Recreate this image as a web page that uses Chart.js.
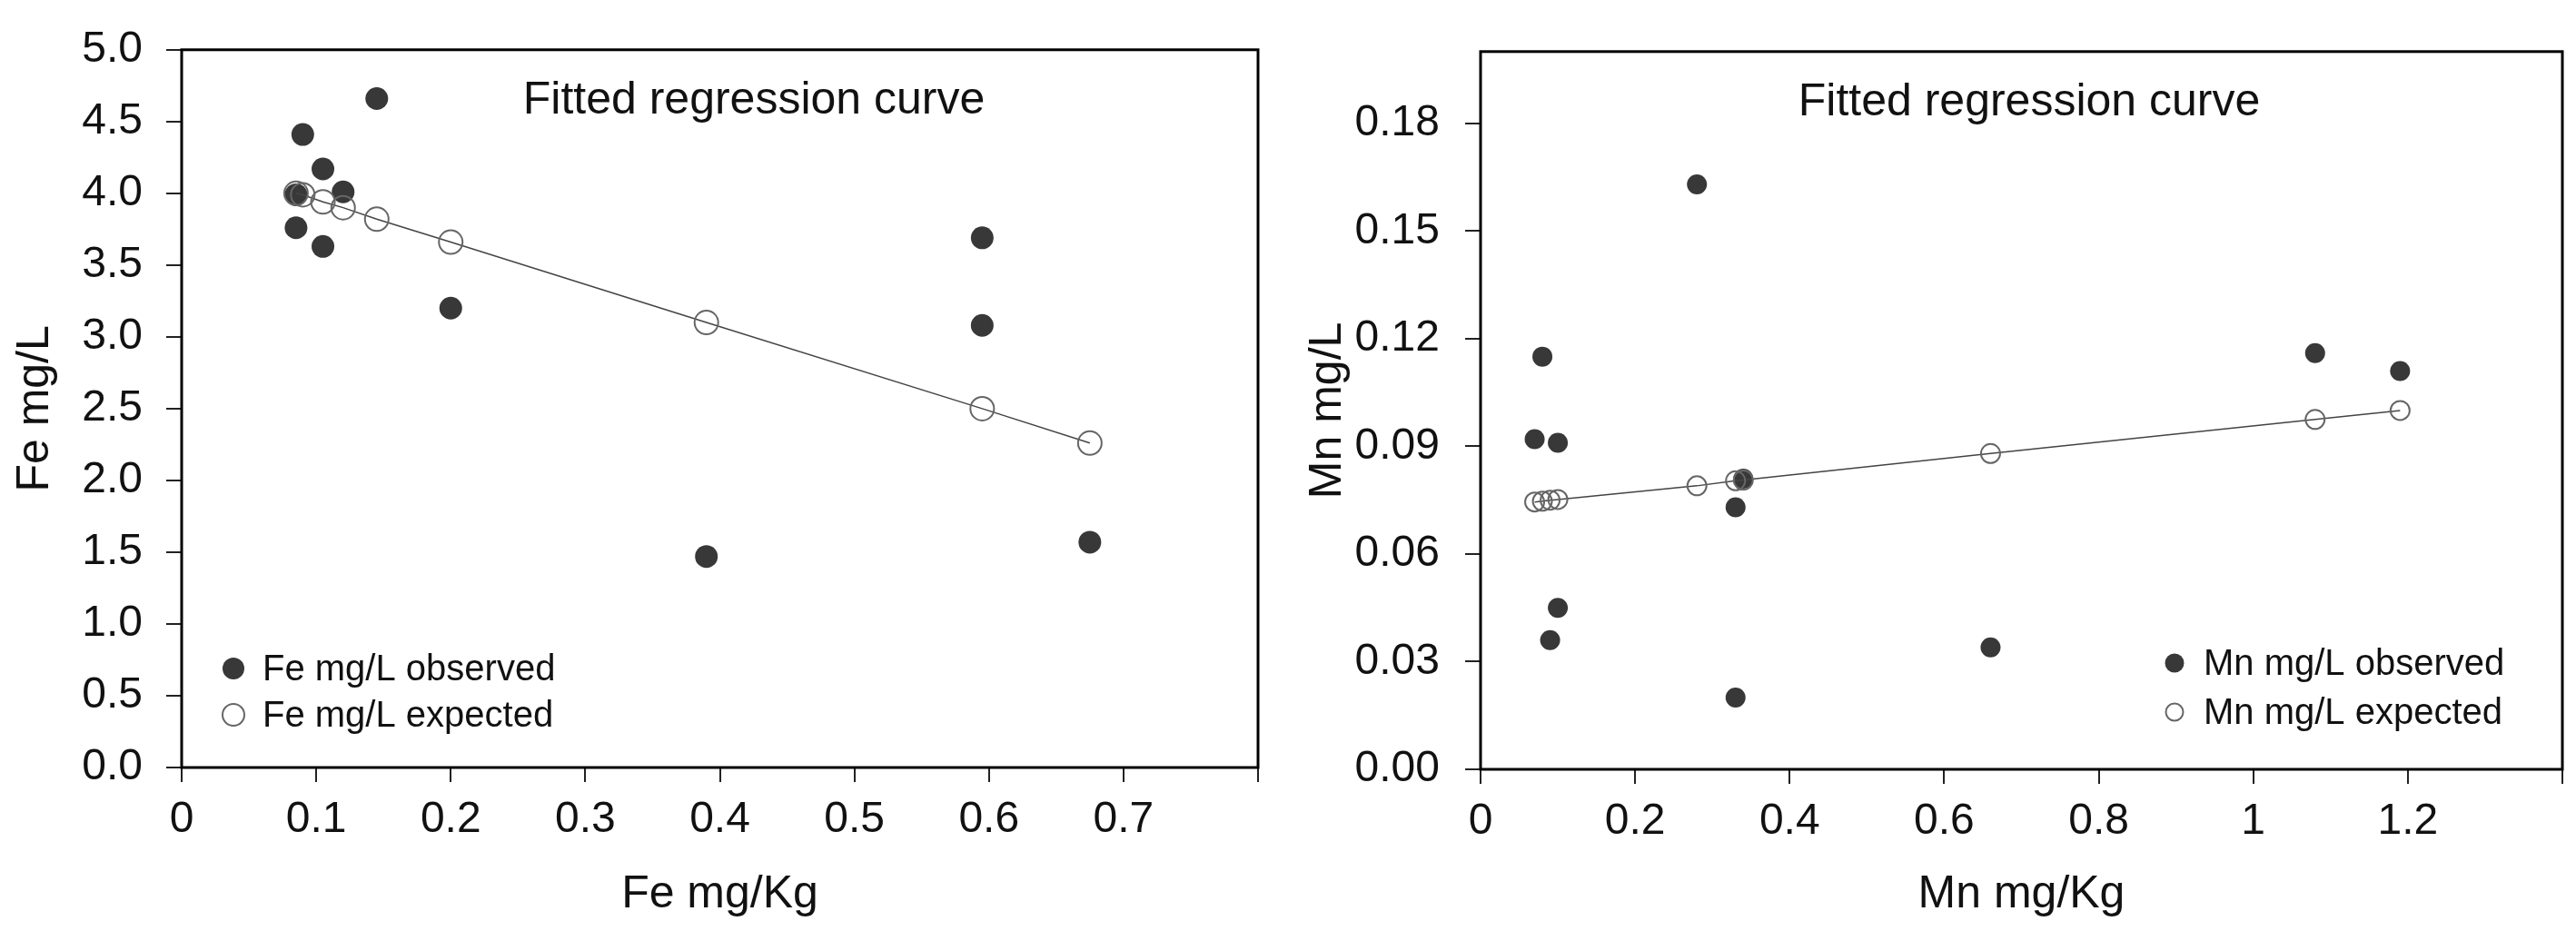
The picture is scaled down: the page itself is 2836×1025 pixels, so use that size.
<!DOCTYPE html>
<html>
<head>
<meta charset="utf-8">
<script src="https://cdn.jsdelivr.net/npm/chart.js@4.4.1/dist/chart.umd.min.js"></script>
<style>
  body { margin: 0; background: #fff; }
  #quadro { position: relative; width: 2836px; height: 1025px; }
  canvas { position: absolute; top: 0; }
</style>
</head>
<body>
<div id="quadro">
  <canvas id="graficoFe" width="1415" height="1025" style="left:0"></canvas>
  <canvas id="graficoMn" width="1421" height="1025" style="left:1415px"></canvas>
</div>
<script>
// FE - valores
const feObsX = [0.145, 0.09, 0.105, 0.12, 0.085, 0.085, 0.105, 0.2, 0.595, 0.595, 0.39, 0.675]
const feObsY = [4.66, 4.41, 4.17, 4.01, 3.99, 3.76, 3.63, 3.2, 3.69, 3.08, 1.47, 1.57]
const feEspX = [0.085, 0.09, 0.105, 0.12, 0.145, 0.2, 0.39, 0.595, 0.675]
const feEspY = [4.0, 3.99, 3.94, 3.9, 3.82, 3.66, 3.1, 2.5, 2.26]
const feRotulosX = ['0', '0.1', '0.2', '0.3', '0.4', '0.5', '0.6', '0.7', '']
const feRotulosY = ['0.0', '0.5', '1.0', '1.5', '2.0', '2.5', '3.0', '3.5', '4.0', '4.5', '5.0']

// MN
const mnObsX = [0.28, 0.08, 0.07, 0.1, 0.33, 0.34, 0.1, 0.09, 0.33, 0.66, 1.08, 1.19]
const mnObsY = [0.163, 0.115, 0.092, 0.091, 0.073, 0.081, 0.045, 0.036, 0.02, 0.034, 0.116, 0.111]
const mnEspX = [0.07, 0.08, 0.09, 0.1, 0.28, 0.33, 0.34, 0.66, 1.08, 1.19]
const mnEspY = [0.0745, 0.0747, 0.075, 0.0752, 0.079, 0.0804, 0.0806, 0.088, 0.0975, 0.1]
const mnRotulosX = ['0', '0.2', '0.4', '0.6', '0.8', '1', '1.2', '']
const mnRotulosY = ['0.00', '0.03', '0.06', '0.09', '0.12', '0.15', '0.18']

const fonte = '"Liberation Sans", Arial, sans-serif'

function juntaPontos(xs, ys) {
  return xs.map((x, i) => ({ x: x, y: ys[i] }))
}

// moldura, texto do topo e legenda dentro da area do grafico
const molduraPlugin = {
  id: 'moldura',
  afterDatasetsDraw(chart, args, opts) {
    const { ctx, chartArea: a } = chart
    ctx.save()
    ctx.strokeStyle = '#000'
    ctx.lineWidth = 3
    ctx.strokeRect(a.left, a.top, a.right - a.left, a.bottom - a.top)

    ctx.fillStyle = '#111'
    ctx.font = '50px ' + fonte
    ctx.textAlign = 'center'
    ctx.textBaseline = 'middle'
    ctx.fillText(opts.texto, a.left + opts.textoX, a.top + opts.textoY)

    ctx.font = '40px ' + fonte
    ctx.textAlign = 'left'
    chart.data.datasets.forEach((ds, i) => {
      let mx = a.left + opts.legendaX
      let my = a.bottom + opts.legendaY + i * opts.passo
      ctx.beginPath()
      ctx.arc(mx, my, opts.raios[i], 0, Math.PI * 2)
      if (ds.pointBackgroundColor !== 'transparent') {
        ctx.fillStyle = ds.pointBackgroundColor
        ctx.fill()
      } else {
        ctx.strokeStyle = ds.pointBorderColor
        ctx.lineWidth = 2
        ctx.stroke()
      }
      ctx.fillStyle = '#111'
      ctx.fillText(ds.label, mx + 32, my + 2)
    })
    ctx.restore()
  }
}

function criaGrafico(id, cfg) {
  return new Chart(document.getElementById(id), {
    type: 'scatter',
    data: {
      datasets: [
        {
          label: cfg.nome + ' mg/L observed',
          data: juntaPontos(cfg.obsX, cfg.obsY),
          pointRadius: cfg.raioObs,
          pointBackgroundColor: '#383838',
          pointBorderColor: '#383838',
          pointBorderWidth: 0,
          order: 2,
        },
        {
          label: cfg.nome + ' mg/L expected',
          data: juntaPontos(cfg.espX, cfg.espY),
          showLine: true,
          borderColor: '#444',
          borderWidth: 1.5,
          pointRadius: cfg.raioEsp,
          pointBackgroundColor: 'transparent',
          pointBorderColor: '#666',
          pointBorderWidth: 2,
          order: 1,
        },
      ],
    },
    options: {
      responsive: false,
      animation: false,
      layout: { padding: { top: cfg.topo, right: cfg.direita, left: 0, bottom: 0 } },
      plugins: {
        legend: { display: false },
        tooltip: { enabled: false },
        moldura: cfg.moldura,
      },
      scales: {
        x: {
          type: 'linear',
          min: 0,
          max: cfg.maxX,
          afterFit: s => { s.height = cfg.alturaX },
          ticks: {
            stepSize: cfg.passoX,
            padding: 13,
            color: '#111',
            maxRotation: 0,
            autoSkip: false,
            font: { size: 48, family: fonte },
            callback: (v, i) => cfg.rotulosX[i],
          },
          grid: { drawOnChartArea: false, tickLength: 16, color: '#222', lineWidth: 2 },
          border: { display: false },
          title: {
            display: true,
            text: cfg.nome + ' mg/Kg',
            color: '#111',
            font: { size: 50, family: fonte },
            padding: { top: 0, bottom: 10 },
          },
        },
        y: {
          min: 0,
          max: cfg.maxY,
          afterFit: s => { s.width = cfg.larguraY },
          ticks: {
            stepSize: cfg.passoY,
            includeBounds: false,
            padding: cfg.padY,
            color: '#111',
            font: { size: 48, family: fonte },
            callback: (v, i) => cfg.rotulosY[i],
          },
          grid: { drawOnChartArea: false, tickLength: 17, color: '#222', lineWidth: 2 },
          border: { display: false },
          title: {
            display: true,
            text: cfg.nome + ' mg/L',
            color: '#111',
            font: { size: 50, family: fonte },
            padding: { top: cfg.padTituloY, bottom: 0 },
          },
        },
      },
    },
    plugins: [molduraPlugin],
  })
}

// GRAFICO FE
const graficoFe = criaGrafico('graficoFe', {
  nome: 'Fe',
  obsX: feObsX, obsY: feObsY, espX: feEspX, espY: feEspY,
  rotulosX: feRotulosX, rotulosY: feRotulosY,
  maxX: 0.8, passoX: 0.1, maxY: 5, passoY: 0.5,
  raioObs: 12.5, raioEsp: 13,
  topo: 43, direita: 30, alturaX: 180, larguraY: 200, padY: 26, padTituloY: 9,
  moldura: { texto: 'Fitted regression curve', textoX: 630, textoY: 56,
    legendaX: 57, legendaY: -109, passo: 51, raios: [12, 12] },
})

// GRAFICO MN
const graficoMn = criaGrafico('graficoMn', {
  nome: 'Mn',
  obsX: mnObsX, obsY: mnObsY, espX: mnEspX, espY: mnEspY,
  rotulosX: mnRotulosX, rotulosY: mnRotulosY,
  maxX: 1.4, passoX: 0.2, maxY: 0.2, passoY: 0.03,
  raioObs: 11, raioEsp: 10.5,
  topo: 47, direita: 15, alturaX: 178, larguraY: 215, padY: 28, padTituloY: 17,
  moldura: { texto: 'Fitted regression curve', textoX: 604, textoY: 56,
    legendaX: 764, legendaY: -117, passo: 54, raios: [10.5, 9.5] },
})
</script>
</body>
</html>
